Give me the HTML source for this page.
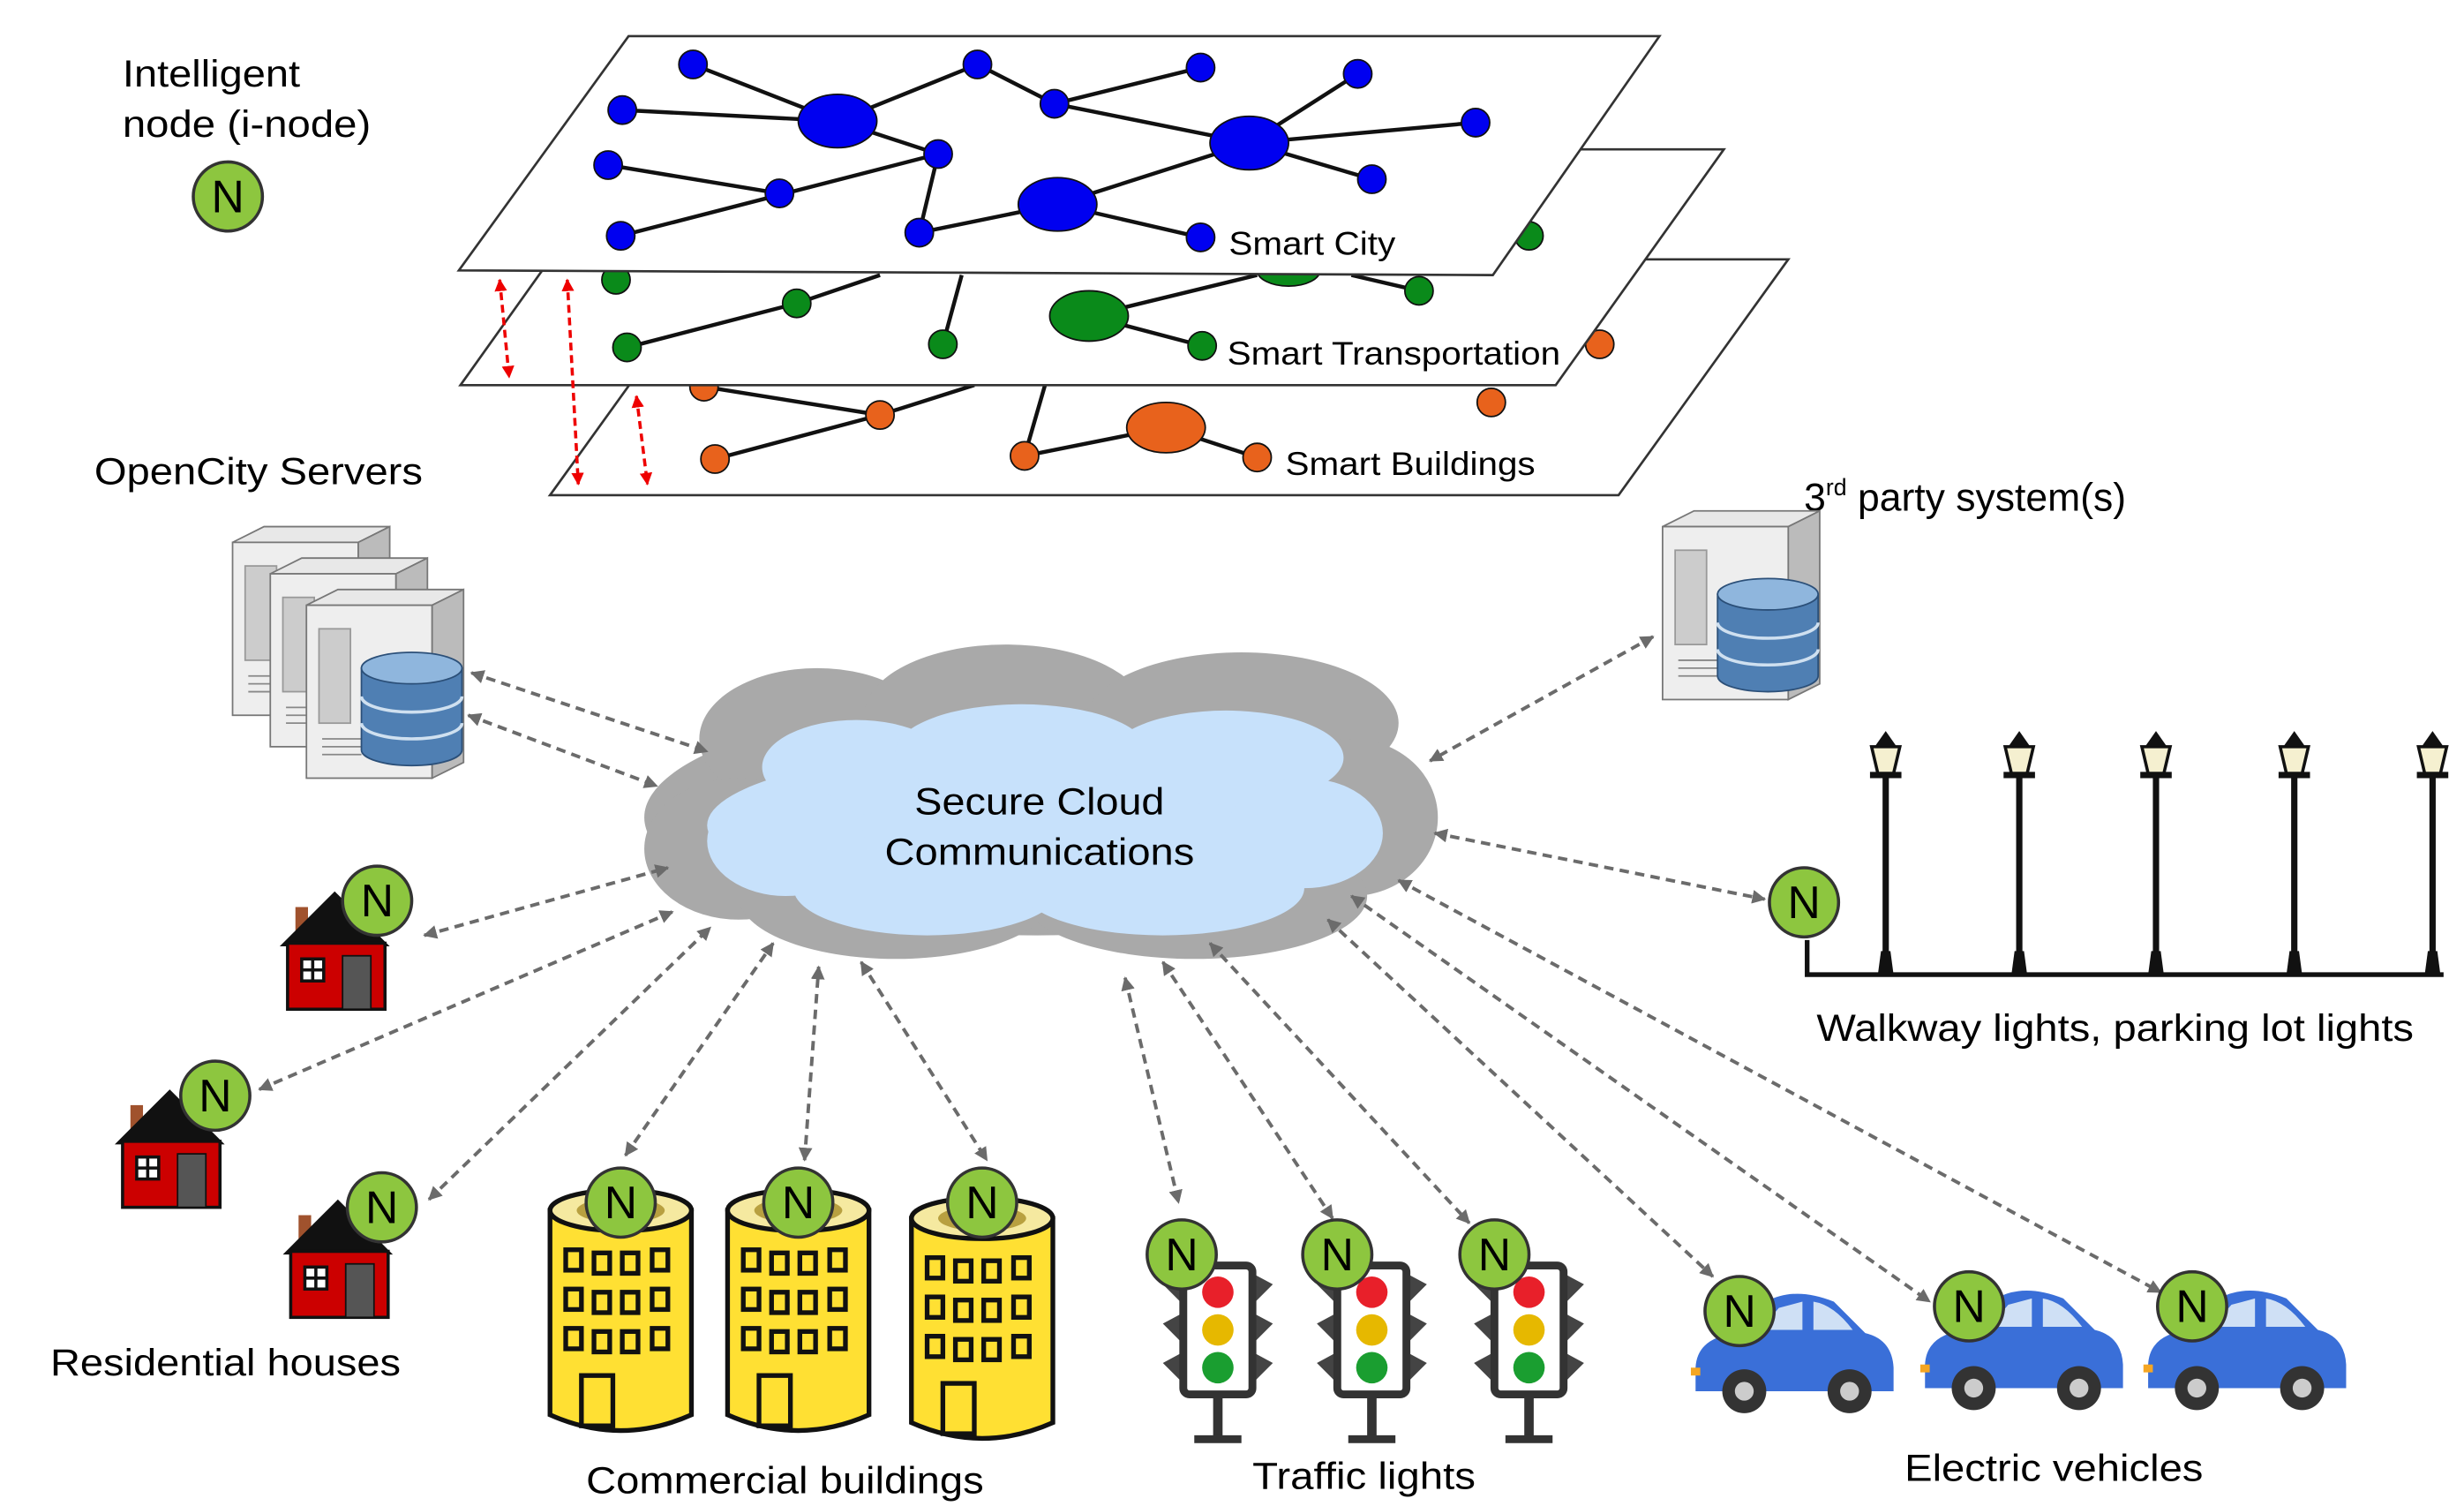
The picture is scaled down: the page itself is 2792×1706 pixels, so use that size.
<!DOCTYPE html>
<html><head><meta charset="utf-8"><style>html,body{margin:0;padding:0;background:#fff}svg{display:block}text{font-family:"Liberation Sans",Arial,sans-serif;fill:#000}</style></head>
<body>
<svg width="2792" height="1706" viewBox="0 0 1568 958" preserveAspectRatio="none" xmlns="http://www.w3.org/2000/svg">
<defs>
<marker id="ga" viewBox="0 0 10 10" refX="9" refY="5" markerWidth="4" markerHeight="4" orient="auto-start-reverse"><path d="M0,0L10,5L0,10z" fill="#6b6b6b"/></marker>
<marker id="ra" viewBox="0 0 10 10" refX="9" refY="5" markerWidth="4" markerHeight="4" orient="auto-start-reverse"><path d="M0,0L10,5L0,10z" fill="#e00"/></marker>
<g id="N"><circle r="22" fill="#8dc63f" stroke="#333" stroke-width="2"/><text y="10" text-anchor="middle" font-size="29">N</text></g>
<g id="house"><rect x="-40" y="-5" width="8" height="22" fill="#a0522d"/><polygon points="-50,20 -15,-15 20,20" fill="#111"/><rect x="-45" y="18" width="62" height="42" fill="#c00" stroke="#111" stroke-width="2"/><rect x="-36" y="28" width="14" height="14" fill="#fff" stroke="#111" stroke-width="2"/><path d="M-29,28v14M-36,35h14" stroke="#111" stroke-width="2"/><rect x="-10" y="26" width="18" height="34" fill="#555" stroke="#111"/></g>
<g id="bldg"><path d="M-45,0 L-45,130 Q0,150 45,130 L45,0z" fill="#ffe033" stroke="#111" stroke-width="3"/><ellipse cx="0" cy="0" rx="45" ry="13" fill="#f5e9a0" stroke="#111" stroke-width="3"/><ellipse cx="0" cy="0" rx="28" ry="8" fill="#b8a040"/>
<g fill="none" stroke="#111" stroke-width="3"><rect x="-35" y="25" width="10" height="13"/><rect x="-17" y="27" width="10" height="13"/><rect x="1" y="27" width="10" height="13"/><rect x="20" y="25" width="10" height="13"/><rect x="-35" y="50" width="10" height="13"/><rect x="-17" y="52" width="10" height="13"/><rect x="1" y="52" width="10" height="13"/><rect x="20" y="50" width="10" height="13"/><rect x="-35" y="75" width="10" height="13"/><rect x="-17" y="77" width="10" height="13"/><rect x="1" y="77" width="10" height="13"/><rect x="20" y="75" width="10" height="13"/><rect x="-25" y="105" width="20" height="32"/></g></g>
<g id="tl"><rect x="-3" y="80" width="6" height="30" fill="#333"/><rect x="-15" y="108" width="30" height="5" fill="#333"/><polygon points="-22,5 -35,12 -22,25" fill="#444"/><polygon points="-22,30 -35,37 -22,50" fill="#444"/><polygon points="-22,55 -35,62 -22,75" fill="#444"/><polygon points="22,5 35,12 22,25" fill="#444"/><polygon points="22,30 35,37 22,50" fill="#444"/><polygon points="22,55 35,62 22,75" fill="#444"/><rect x="-22" y="0" width="44" height="82" rx="4" fill="#fff" stroke="#333" stroke-width="5"/><circle cy="17" r="10" fill="#e8202a"/><circle cy="41" r="10" fill="#e6b800"/><circle cy="65" r="10" fill="#1a9e30"/></g>
<g id="car"><path d="M-63,30 Q-62,10 -35,8 L-18,-12 Q0,-22 25,-12 L45,8 Q62,12 63,30 L63,45 L-63,45z" fill="#3a6fd8"/><path d="M-10,-8 L5,-12 L5,6 L-22,6z M12,-12 Q25,-10 37,6 L12,6z" fill="#cfe0f5"/><circle cx="-32" cy="45" r="14" fill="#333"/><circle cx="-32" cy="45" r="6" fill="#ccc"/><circle cx="35" cy="45" r="14" fill="#333"/><circle cx="35" cy="45" r="6" fill="#ccc"/><rect x="-66" y="30" width="6" height="5" fill="#f5a623"/></g>
<g id="lamp"><rect x="-2" y="20" width="4" height="130" fill="#111"/><path d="M-5,150 h10 l-2,-15 h-6z" fill="#111"/><path d="M-9,5 h18 l-4,17 h-10z" fill="#f5f0d0" stroke="#111" stroke-width="2"/><path d="M-7,5 L0,-5 L7,5z M-10,21h20v4h-20z" fill="#111"/></g>
<g id="srv"><path d="M0,10 L20,0 L100,0 L80,10z" fill="#e8e8e8" stroke="#777"/><rect x="0" y="10" width="80" height="110" fill="#eee" stroke="#777"/><path d="M80,10 L100,0 L100,110 L80,120z" fill="#bbb" stroke="#777"/><rect x="8" y="25" width="20" height="60" fill="#ccc" stroke="#999"/><path d="M10,95h25M10,100h25M10,105h25" stroke="#888"/></g>
<g id="db"><path d="M-32,-20 v52 a32,10 0 0 0 64,0 v-52z" fill="#4f7fb3" stroke="#2b4f78"/><ellipse cx="0" cy="-20" rx="32" ry="10" fill="#8fb6dd" stroke="#2b4f78"/><path d="M-32,-2 a32,10 0 0 0 64,0 M-32,15 a32,10 0 0 0 64,0" fill="none" stroke="#cfe0f0" stroke-width="2"/></g>
</defs>

<polygon points="458,165 1138,165 1030,315 350,315" fill="#fff" stroke="#333" stroke-width="1.5"/>
<g stroke="#111" stroke-width="2.5"><line x1="448" y1="246" x2="560" y2="264"/><line x1="455" y1="292" x2="560" y2="264"/><line x1="560" y1="264" x2="620" y2="245"/><line x1="652" y1="290" x2="742" y2="272"/><line x1="742" y1="272" x2="800" y2="291"/><line x1="652" y1="290" x2="665" y2="245"/></g>
<g fill="#e8621c" stroke="#111"><circle cx="448" cy="246" r="9"/><circle cx="455" cy="292" r="9"/><circle cx="560" cy="264" r="9"/><circle cx="652" cy="290" r="9"/><ellipse cx="742" cy="272" rx="25" ry="16"/><circle cx="800" cy="291" r="9"/><circle cx="949" cy="256" r="9"/><circle cx="1018" cy="219" r="9"/></g>
<text x="818" y="302" font-size="21" textLength="159" lengthAdjust="spacingAndGlyphs">Smart Buildings</text>
<polygon points="400,95 1097,95 990,245 293,245" fill="#fff" stroke="#333" stroke-width="1.5"/>
<g stroke="#111" stroke-width="2.5"><line x1="399" y1="221" x2="507" y2="193"/><line x1="507" y1="193" x2="560" y2="175"/><line x1="600" y1="219" x2="612" y2="175"/><line x1="693" y1="201" x2="800" y2="175"/><line x1="693" y1="201" x2="765" y2="220"/><line x1="860" y1="175" x2="903" y2="185"/></g>
<g fill="#0a8a1a" stroke="#111"><circle cx="392" cy="178" r="9"/><circle cx="399" cy="221" r="9"/><circle cx="507" cy="193" r="9"/><circle cx="600" cy="219" r="9"/><ellipse cx="693" cy="201" rx="25" ry="16"/><circle cx="765" cy="220" r="9"/><circle cx="903" cy="185" r="9"/><circle cx="973" cy="150" r="9"/><ellipse cx="820" cy="172" rx="20" ry="10"/></g>
<text x="781" y="232" font-size="21" textLength="212" lengthAdjust="spacingAndGlyphs">Smart Transportation</text>
<polygon points="400,23 1056,23 950,175 292,172" fill="#fff" stroke="#333" stroke-width="1.5"/>
<g stroke="#111" stroke-width="2.5"><line x1="441" y1="41" x2="533" y2="77"/><line x1="396" y1="70" x2="533" y2="77"/><line x1="533" y1="77" x2="597" y2="98"/><line x1="533" y1="77" x2="622" y2="41"/><line x1="387" y1="105" x2="496" y2="123"/><line x1="395" y1="150" x2="597" y2="98"/><line x1="597" y1="98" x2="585" y2="148"/><line x1="585" y1="148" x2="673" y2="130"/><line x1="622" y1="41" x2="671" y2="66"/><line x1="671" y1="66" x2="764" y2="43"/><line x1="671" y1="66" x2="795" y2="91"/><line x1="673" y1="130" x2="795" y2="91"/><line x1="673" y1="130" x2="764" y2="151"/><line x1="795" y1="91" x2="864" y2="47"/><line x1="795" y1="91" x2="939" y2="78"/><line x1="795" y1="91" x2="873" y2="114"/></g>
<g fill="#0000f0" stroke="#111"><circle cx="441" cy="41" r="9"/><circle cx="396" cy="70" r="9"/><circle cx="387" cy="105" r="9"/><circle cx="395" cy="150" r="9"/><circle cx="496" cy="123" r="9"/><circle cx="597" cy="98" r="9"/><circle cx="585" cy="148" r="9"/><circle cx="622" cy="41" r="9"/><circle cx="671" cy="66" r="9"/><circle cx="764" cy="43" r="9"/><circle cx="864" cy="47" r="9"/><circle cx="939" cy="78" r="9"/><circle cx="873" cy="114" r="9"/><circle cx="764" cy="151" r="9"/><ellipse cx="533" cy="77" rx="25" ry="17"/><ellipse cx="795" cy="91" rx="25" ry="17"/><ellipse cx="673" cy="130" rx="25" ry="17"/></g>
<text x="782" y="162" font-size="21" textLength="106" lengthAdjust="spacingAndGlyphs">Smart City</text>
<g stroke="#e00" stroke-width="2" stroke-dasharray="5,3" marker-start="url(#ra)" marker-end="url(#ra)"><line x1="318" y1="178" x2="324" y2="240"/><line x1="361" y1="178" x2="368" y2="308"/><line x1="405" y1="252" x2="412" y2="308"/></g>

<text x="78" y="55" font-size="24" textLength="113" lengthAdjust="spacingAndGlyphs">Intelligent</text><text x="78" y="87" font-size="24" textLength="158" lengthAdjust="spacingAndGlyphs">node (i-node)</text>
<use href="#N" x="145" y="125"/>
<text x="60" y="308" font-size="24" textLength="209" lengthAdjust="spacingAndGlyphs">OpenCity Servers</text>
<use href="#srv" x="148" y="335"/><use href="#srv" x="172" y="355"/><use href="#srv" x="195" y="375"/><use href="#db" x="262" y="445"/>
<text x="1148" y="325" font-size="25">3<tspan font-size="15" dy="-10">rd</tspan><tspan dy="10"> party system(s)</tspan></text>
<use href="#srv" x="1058" y="325"/><use href="#db" x="1125" y="398"/>

<g fill="#a9a9a9"><ellipse cx="660" cy="520" rx="250" ry="75"/><ellipse cx="520" cy="470" rx="75" ry="45"/><ellipse cx="640" cy="455" rx="90" ry="45"/><ellipse cx="790" cy="460" rx="100" ry="45"/><ellipse cx="470" cy="540" rx="60" ry="45"/><ellipse cx="860" cy="520" rx="55" ry="50"/><ellipse cx="570" cy="570" rx="100" ry="40"/><ellipse cx="760" cy="570" rx="110" ry="40"/></g>
<g fill="#c7e1fb"><ellipse cx="660" cy="525" rx="210" ry="50"/><ellipse cx="545" cy="488" rx="60" ry="30"/><ellipse cx="650" cy="478" rx="80" ry="30"/><ellipse cx="780" cy="482" rx="75" ry="30"/><ellipse cx="500" cy="535" rx="50" ry="35"/><ellipse cx="830" cy="530" rx="50" ry="35"/><ellipse cx="590" cy="565" rx="85" ry="30"/><ellipse cx="740" cy="565" rx="90" ry="30"/></g>
<text x="582" y="518" font-size="24" textLength="159" lengthAdjust="spacingAndGlyphs">Secure Cloud</text><text x="563" y="550" font-size="24" textLength="197" lengthAdjust="spacingAndGlyphs">Communications</text>

<g stroke="#6b6b6b" stroke-width="2.2" stroke-dasharray="6,4" marker-start="url(#ga)" marker-end="url(#ga)" fill="none">
<line x1="300" y1="428" x2="450" y2="478"/><line x1="298" y1="455" x2="418" y2="500"/><line x1="1052" y1="405" x2="910" y2="484"/><line x1="913" y1="530" x2="1123" y2="572"/>
<line x1="270" y1="595" x2="425" y2="552"/><line x1="165" y1="693" x2="428" y2="580"/><line x1="273" y1="763" x2="452" y2="590"/>
<line x1="398" y1="735" x2="492" y2="600"/><line x1="512" y1="738" x2="521" y2="615"/><line x1="548" y1="612" x2="628" y2="738"/>
<line x1="716" y1="622" x2="750" y2="765"/><line x1="740" y1="612" x2="848" y2="775"/><line x1="770" y1="600" x2="935" y2="778"/>
<line x1="845" y1="585" x2="1090" y2="812"/><line x1="860" y1="570" x2="1228" y2="828"/><line x1="890" y1="560" x2="1375" y2="822"/></g>

<path d="M1150,598 V620 H1555" stroke="#111" stroke-width="3" fill="none"/>
<use href="#lamp" x="1200" y="470"/><use href="#lamp" x="1285" y="470"/><use href="#lamp" x="1372" y="470"/><use href="#lamp" x="1460" y="470"/><use href="#lamp" x="1548" y="470"/>
<use href="#N" x="1148" y="574"/>
<text x="1156" y="662" font-size="24" textLength="380" lengthAdjust="spacingAndGlyphs">Walkway lights, parking lot lights</text>

<use href="#house" x="228" y="582"/><use href="#N" x="240" y="573"/>
<use href="#house" x="123" y="708"/><use href="#N" x="137" y="697"/>
<use href="#house" x="230" y="778"/><use href="#N" x="243" y="768"/>
<text x="32" y="875" font-size="24" textLength="223" lengthAdjust="spacingAndGlyphs">Residential houses</text>

<use href="#bldg" x="395" y="770"/><use href="#N" x="395" y="765"/>
<use href="#bldg" x="508" y="770"/><use href="#N" x="508" y="765"/>
<use href="#bldg" x="625" y="775"/><use href="#N" x="625" y="765"/>
<text x="373" y="950" font-size="24" textLength="253" lengthAdjust="spacingAndGlyphs">Commercial buildings</text>

<use href="#tl" x="775" y="805"/><use href="#N" x="752" y="798"/>
<use href="#tl" x="873" y="805"/><use href="#N" x="851" y="798"/>
<use href="#tl" x="973" y="805"/><use href="#N" x="951" y="798"/>
<text x="797" y="947" font-size="24" textLength="142" lengthAdjust="spacingAndGlyphs">Traffic lights</text>

<use href="#car" x="1142" y="840"/><use href="#N" x="1107" y="834"/>
<use href="#car" x="1288" y="838"/><use href="#N" x="1253" y="831"/>
<use href="#car" x="1430" y="838"/><use href="#N" x="1395" y="831"/>
<text x="1212" y="942" font-size="24" textLength="190" lengthAdjust="spacingAndGlyphs">Electric vehicles</text>
</svg>
</body></html>
